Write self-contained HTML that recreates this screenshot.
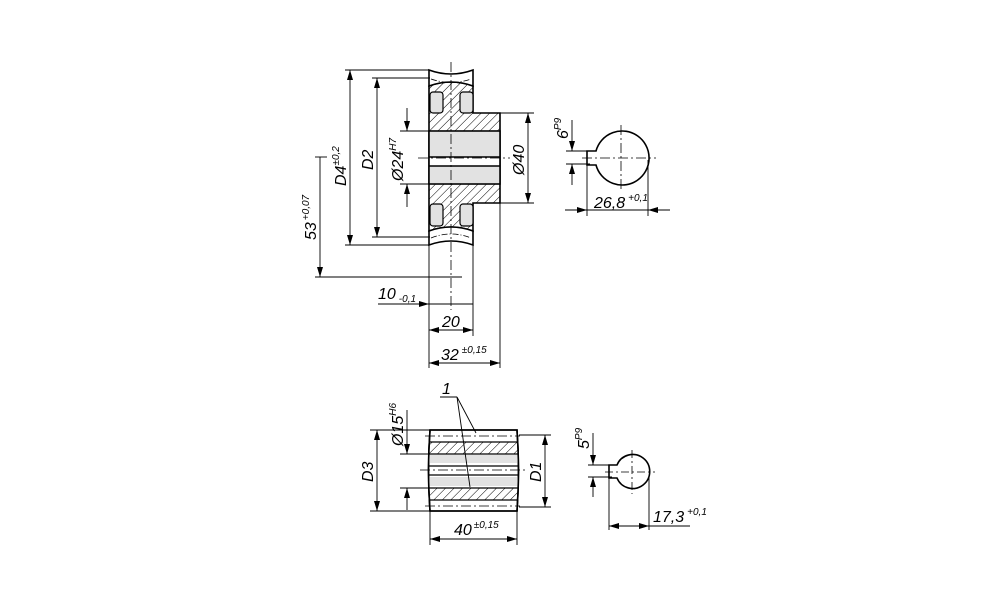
<!DOCTYPE html>
<html><head><meta charset="utf-8"><style>body{margin:0;background:#fff}svg{display:block}text{font-family:"Liberation Sans",sans-serif;font-style:italic;fill:#000}</style></head><body>
<svg width="1000" height="611" viewBox="0 0 1000 611" xmlns="http://www.w3.org/2000/svg">
<defs>
<pattern id="h" width="6" height="6" patternUnits="userSpaceOnUse" patternTransform="rotate(45)"><line x1="0" y1="0" x2="0" y2="6" stroke="#000" stroke-width="1"/></pattern>
<marker id="a" viewBox="0 0 10 6" refX="10" refY="3" markerWidth="11" markerHeight="6" orient="auto-start-reverse" markerUnits="userSpaceOnUse"><path d="M0,0L10,3L0,6z" fill="#000"/></marker>
</defs>
<g stroke="#000" fill="none">
<path d="M429,86 Q451,78 473,86 L473,113 L500,113 L500,203 L473,203 L473,231 Q451,223 429,231 Z" fill="url(#h)" stroke-width="1.6"/>
<path d="M429,70 Q451,78 473,70 L473,86 Q451,78 429,86 Z" fill="#fff" stroke-width="1.6"/>
<path d="M429,231 Q451,223 473,231 L473,245 Q451,237 429,245 Z" fill="#fff" stroke-width="1.6"/>
<rect x="430" y="92" width="13" height="21" rx="3" fill="#e2e2e2" stroke-width="1.2"/>
<rect x="460" y="92" width="13" height="21" rx="3" fill="#e2e2e2" stroke-width="1.2"/>
<rect x="430" y="204" width="13" height="22" rx="3" fill="#e2e2e2" stroke-width="1.2"/>
<rect x="460" y="204" width="13" height="22" rx="3" fill="#e2e2e2" stroke-width="1.2"/>
<rect x="429" y="131" width="71" height="53" fill="#fff" stroke-width="1.6"/>
<rect x="430" y="132" width="69" height="25" fill="#e2e2e2" stroke="none"/>
<rect x="430" y="166" width="69" height="17" fill="#e2e2e2" stroke="none"/>
<line x1="429" y1="157" x2="500" y2="157" stroke-width="1.4"/>
<line x1="429" y1="166" x2="500" y2="166" stroke-width="1.4"/>
<path d="M431,79 Q451,86 471,79 M431,238 Q451,230 471,238" stroke-width="0.8" stroke-dasharray="6,2,1,2"/>
<line x1="451" y1="62" x2="451" y2="310" stroke-width="0.8" stroke-dasharray="10,3,2,3"/>
<line x1="418" y1="158" x2="510" y2="158" stroke-width="0.8" stroke-dasharray="10,3,2,3"/>
<g stroke-width="0.9">
<line x1="345" y1="70" x2="430" y2="70"/><line x1="345" y1="245" x2="430" y2="245"/>
<line x1="350" y1="70" x2="350" y2="245" marker-start="url(#a)" marker-end="url(#a)"/>
<line x1="372" y1="78" x2="430" y2="78"/><line x1="372" y1="237" x2="430" y2="237"/>
<line x1="377" y1="78" x2="377" y2="237" marker-start="url(#a)" marker-end="url(#a)"/>
<line x1="400" y1="131" x2="429" y2="131"/><line x1="400" y1="184" x2="429" y2="184"/>
<line x1="407" y1="108" x2="407" y2="131" marker-end="url(#a)"/><line x1="407" y1="207" x2="407" y2="184" marker-end="url(#a)"/>
<line x1="500" y1="113" x2="534" y2="113"/><line x1="500" y1="203" x2="534" y2="203"/>
<line x1="528" y1="113" x2="528" y2="203" marker-start="url(#a)" marker-end="url(#a)"/>
<line x1="315" y1="157" x2="327" y2="157"/><line x1="315" y1="277" x2="462" y2="277"/>
<line x1="320" y1="157" x2="320" y2="277" marker-end="url(#a)"/>
<line x1="429" y1="245" x2="429" y2="368"/><line x1="473" y1="245" x2="473" y2="336"/><line x1="500" y1="203" x2="500" y2="368"/>
<line x1="378" y1="304" x2="429" y2="304" marker-end="url(#a)"/><line x1="429" y1="304" x2="473" y2="304"/>
<line x1="429" y1="330" x2="473" y2="330" marker-start="url(#a)" marker-end="url(#a)"/>
<line x1="429" y1="363" x2="500" y2="363" marker-start="url(#a)" marker-end="url(#a)"/>
</g>
<path d="M596,151 A27,27 0 1 1 596,165 L587,165 L587,151 Z" fill="#fff" stroke-width="1.6"/>
<g stroke-width="0.8" stroke-dasharray="10,3,2,3"><line x1="621" y1="125" x2="621" y2="191"/><line x1="582" y1="158" x2="656" y2="158"/></g>
<g stroke-width="0.9">
<line x1="566" y1="151" x2="590" y2="151"/><line x1="566" y1="164" x2="590" y2="164"/>
<line x1="572" y1="120" x2="572" y2="151" marker-end="url(#a)"/><line x1="572" y1="185" x2="572" y2="164" marker-end="url(#a)"/>
<line x1="587" y1="165" x2="587" y2="216"/><line x1="648" y1="160" x2="648" y2="216"/>
<line x1="565" y1="210" x2="587" y2="210" marker-end="url(#a)"/><line x1="670" y1="210" x2="648" y2="210" marker-end="url(#a)"/><line x1="587" y1="210" x2="648" y2="210"/>
</g>
<path d="M430,430 L517,430 Q520,470 517,511 L430,511 Q427,470 430,430 Z" fill="#fff" stroke-width="1.6"/>
<rect x="429" y="442" width="89" height="12" fill="url(#h)" stroke="none"/>
<rect x="429" y="488" width="89" height="12" fill="url(#h)" stroke="none"/>
<rect x="430" y="455" width="87" height="8" fill="#e2e2e2" stroke="none"/>
<rect x="430" y="477" width="87" height="9" fill="#e2e2e2" stroke="none"/>
<path d="M430,430 L517,430 Q520,470 517,511 L430,511 Q427,470 430,430 Z" stroke-width="1.6"/>
<g stroke-width="1.3"><line x1="429" y1="442" x2="518" y2="442"/><line x1="429" y1="454" x2="518" y2="454"/><line x1="429" y1="466" x2="518" y2="466"/><line x1="429" y1="475" x2="518" y2="475"/><line x1="429" y1="488" x2="518" y2="488"/><line x1="429" y1="500" x2="518" y2="500"/></g>
<g stroke-width="0.8" stroke-dasharray="10,3,2,3"><line x1="425" y1="436" x2="520" y2="436"/><line x1="425" y1="506" x2="520" y2="506"/><line x1="420" y1="470" x2="525" y2="470"/></g>
<g stroke-width="0.9">
<line x1="370" y1="430" x2="430" y2="430"/><line x1="370" y1="511" x2="430" y2="511"/>
<line x1="377" y1="430" x2="377" y2="511" marker-start="url(#a)" marker-end="url(#a)"/>
<line x1="400" y1="454" x2="429" y2="454"/><line x1="400" y1="488" x2="429" y2="488"/>
<line x1="407" y1="410" x2="407" y2="454" marker-end="url(#a)"/><line x1="407" y1="510" x2="407" y2="488" marker-end="url(#a)"/>
<line x1="519" y1="435" x2="551" y2="435"/><line x1="519" y1="507" x2="551" y2="507"/>
<line x1="545" y1="435" x2="545" y2="507" marker-start="url(#a)" marker-end="url(#a)"/>
<line x1="430" y1="511" x2="430" y2="545"/><line x1="517" y1="511" x2="517" y2="545"/>
<line x1="430" y1="539" x2="517" y2="539" marker-start="url(#a)" marker-end="url(#a)"/>
<line x1="440" y1="397" x2="457" y2="397"/><line x1="457" y1="397" x2="476" y2="433"/><line x1="457" y1="397" x2="470" y2="487"/>
</g>
<path d="M617,465 A17,17 0 1 1 617,478 L609,478 L609,465 Z" fill="#fff" stroke-width="1.6"/>
<g stroke-width="0.8" stroke-dasharray="8,3,2,3"><line x1="632" y1="450" x2="632" y2="494"/><line x1="605" y1="472" x2="655" y2="472"/></g>
<g stroke-width="0.9">
<line x1="588" y1="465" x2="612" y2="465"/><line x1="588" y1="477" x2="612" y2="477"/>
<line x1="593" y1="433" x2="593" y2="465" marker-end="url(#a)"/><line x1="593" y1="497" x2="593" y2="477" marker-end="url(#a)"/>
<line x1="609" y1="478" x2="609" y2="530"/><line x1="649" y1="475" x2="649" y2="530"/>
<line x1="609" y1="526" x2="649" y2="526" marker-start="url(#a)" marker-end="url(#a)"/><line x1="649" y1="526" x2="690" y2="526"/>
</g>
</g>
<g font-size="16">
<text transform="translate(346,186) rotate(-90)">D4<tspan font-size="10" dy="-7">±0,2</tspan></text>
<text transform="translate(373,170) rotate(-90)">D2</text>
<text transform="translate(403,181) rotate(-90)">Ø24<tspan font-size="10" dy="-7">H7</tspan></text>
<text transform="translate(524,175) rotate(-90)">Ø40</text>
<text transform="translate(316,240) rotate(-90)">53<tspan font-size="10" dx="2" dy="-7">+0,07</tspan></text>
<text x="378" y="299">10<tspan font-size="10" dx="3" dy="3">-0,1</tspan></text>
<text x="442" y="327">20</text>
<text x="441" y="360">32<tspan font-size="10" dx="3" dy="-7">±0,15</tspan></text>
<text transform="translate(568,139) rotate(-90)">6<tspan font-size="10" dy="-7">P9</tspan></text>
<text x="594" y="208">26,8<tspan font-size="10" dx="3" dy="-7">+0,1</tspan></text>
<text x="442" y="394">1</text>
<text transform="translate(403,446) rotate(-90)">Ø15<tspan font-size="10" dy="-7">H6</tspan></text>
<text transform="translate(373,482) rotate(-90)">D3</text>
<text transform="translate(541,482) rotate(-90)">D1</text>
<text x="454" y="535">40<tspan font-size="10" dx="2" dy="-7">±0,15</tspan></text>
<text transform="translate(589,449) rotate(-90)">5<tspan font-size="10" dy="-7">P9</tspan></text>
<text x="653" y="522">17,3<tspan font-size="10" dx="3" dy="-7">+0,1</tspan></text>
</g>
</svg>
</body></html>
